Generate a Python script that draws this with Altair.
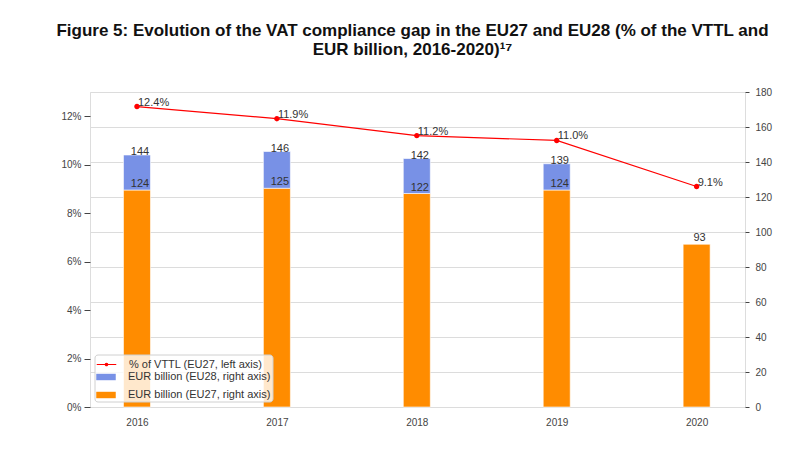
import altair as alt
import pandas as pd

years = [2016, 2017, 2018, 2019, 2020]
vttl_pct = [12.4, 11.9, 11.2, 11.0, 9.1]
eur_eu28 = [144, 146, 142, 139, None]
eur_eu27 = [124, 125, 122, 124, 93]

LBL_LINE = "% of VTTL (EU27, left axis)"
LBL_EU28 = "EUR billion (EU28, right axis)"
LBL_EU27 = "EUR billion (EU27, right axis)"

df = pd.DataFrame({
    "year": years,
    "pct": vttl_pct,
    "eu28": eur_eu28,
    "eu27": eur_eu27,
})
df["pct_label"] = [f"{v:.1f}%" for v in vttl_pct]
df["s_eu27"] = LBL_EU27
df["s_eu28"] = LBL_EU28
df["s_line"] = LBL_LINE

FONT = "Liberation Sans"
W, H = 655, 315

x = alt.X("year:Q",
          scale=alt.Scale(domain=[2015.7, 2020.31], nice=False, zero=False),
          axis=alt.Axis(values=years, format="d", grid=False, ticks=False,
                        domain=False, labelPadding=10, labelFontSize=10,
                        labelColor="#444", title=None))

fill_scale = alt.Scale(domain=[LBL_EU28, LBL_EU27], range=["#7891E6", "#FF8C00"])
bar_shape = "M-1,-0.33H1V0.33H-1Z"
fill_legend = alt.Legend(title=None, orient="none", legendX=6, legendY=275,
                         symbolType=bar_shape, symbolSize=380, symbolStrokeWidth=0,
                         labelFontSize=11, labelFont=FONT, labelColor="#333",
                         rowPadding=3, labelOffset=12, padding=0)

right_scale = alt.Scale(domain=[0, 180], nice=False)
right_axis = alt.Axis(orient="right", values=list(range(0, 181, 20)),
                      grid=True, gridColor="#dcdcdc", domain=False,
                      tickSize=4, tickColor="#444", labelPadding=6,
                      labelFontSize=10, labelColor="#444", title=None)

orange = alt.Chart(df).mark_bar(size=27, stroke="white", strokeWidth=0.6).encode(
    x=x, y=alt.Y("eu27:Q", scale=right_scale, axis=right_axis),
    fill=alt.Fill("s_eu27:N", scale=fill_scale, legend=fill_legend),
)
blue = alt.Chart(df).transform_filter("datum.eu28 != null").mark_bar(
    size=27, stroke="white", strokeWidth=0.6).encode(
    x=x, y=alt.Y("eu27:Q", scale=right_scale, axis=right_axis), y2=alt.Y2("eu28:Q"),
    fill=alt.Fill("s_eu28:N", scale=fill_scale, legend=fill_legend),
)
txt28 = alt.Chart(df).transform_filter("datum.eu28 != null").mark_text(
    align="center", baseline="alphabetic", dx=3, dy=0, fontSize=11, font=FONT,
    color="#333").encode(x=x, y=alt.Y("eu28:Q", scale=right_scale, axis=right_axis),
                         text=alt.Text("eu28:Q", format="d"))
txt27 = alt.Chart(df).mark_text(
    align="center", baseline="alphabetic", dx=3, dy=-3, fontSize=11, font=FONT,
    color="#333").encode(x=x, y=alt.Y("eu27:Q", scale=right_scale, axis=right_axis),
                         text=alt.Text("eu27:Q", format="d"))

right = alt.layer(orange, blue, txt28, txt27)

y_left = alt.Y("pct:Q",
               scale=alt.Scale(domain=[0, 13], nice=False),
               axis=alt.Axis(orient="left", values=list(range(0, 13, 2)),
                             labelExpr="datum.value + '%'", grid=False,
                             domain=False, tickSize=6, tickColor="#444",
                             labelPadding=3, labelFontSize=10, labelColor="#444",
                             title=None))

line_shape = "M-1,0H1M-0.12,0A0.12,0.12 0 1,0 0.12,0A0.12,0.12 0 1,0 -0.12,0Z"
line = alt.Chart(df).mark_line(strokeWidth=1.2, point=alt.OverlayMarkDef(
    filled=True, size=12, color="#FF0000")).encode(
    x=x, y=y_left,
    stroke=alt.Stroke("s_line:N",
                      scale=alt.Scale(domain=[LBL_LINE], range=["#FF0000"]),
                      legend=alt.Legend(title=None, orient="none", legendX=6, legendY=262,
                                        symbolType=line_shape, symbolSize=380,
                                        symbolStrokeWidth=1.2, symbolFillColor="#FF0000",
                                        labelFontSize=11, labelFont=FONT,
                                        labelColor="#333", labelOffset=12, padding=0)),
)
pct_txt = alt.Chart(df).mark_text(
    align="left", baseline="alphabetic", dx=1, dy=-1, fontSize=11, font=FONT,
    color="#333").encode(x=x, y=y_left, text="pct_label:N")

left = alt.layer(line, pct_txt)

legend_box = alt.Chart(pd.DataFrame({"a": [0]})).mark_rect(
    fill="white", fillOpacity=0.8, stroke="#d0d0d0", strokeWidth=1, cornerRadius=3
).encode(x=alt.value(5), x2=alt.value(183), y=alt.value(263), y2=alt.value(310))

chart = alt.layer(right, left, legend_box).resolve_scale(
    y="independent", fill="independent", stroke="independent"
).properties(
    width=W, height=H,
    title=alt.TitleParams(
        text=["Figure 5: Evolution of the VAT compliance gap in the EU27 and EU28 (% of the VTTL and",
              "EUR billion, 2016-2020)\u00b9\u2077"],
        font=FONT, fontSize=17, fontWeight="bold", color="#111",
        anchor="middle", frame="group", dx=-5, offset=28, lineHeight=19),
    autosize=alt.AutoSizeParams(type="none"),
    padding={"left": 90, "top": 92, "right": 66, "bottom": 47},
).configure_view(stroke="#cccccc", strokeWidth=1).configure(background="white")

chart.save("out.html", embed_options={"renderer": "svg", "actions": False})
